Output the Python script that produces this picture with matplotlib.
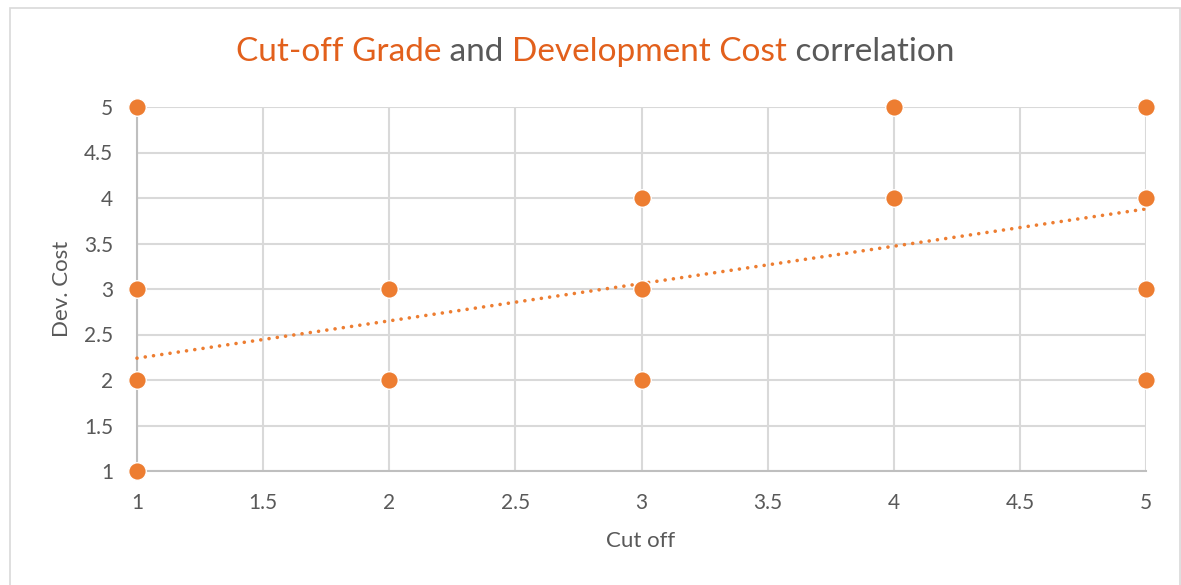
import matplotlib
matplotlib.use("Agg")
import matplotlib.pyplot as plt
from matplotlib.patches import Rectangle

# Observations: cut-off grade vs development cost
cut_off = [1, 1, 1, 1, 2, 2, 3, 3, 3, 4, 4, 5, 5, 5, 5]
dev_cost = [5, 3, 2, 1, 3, 2, 4, 3, 2, 5, 4, 5, 4, 3, 2]

# Linear trendline end points
trend_x = [1, 5]
trend_y = [2.24, 3.88]

x_ticks = [1, 1.5, 2, 2.5, 3, 3.5, 4, 4.5, 5]
y_ticks = [1, 1.5, 2, 2.5, 3, 3.5, 4, 4.5, 5]

ORANGE = "#ED7D31"
TITLE_ORANGE = "#E2601C"
GRAY = "#595959"
GRID = "#D9D9D9"

plt.rcParams["font.family"] = ["Lato", "DejaVu Sans"]

W, H = 1181, 585
fig = plt.figure(figsize=(W / 100, H / 100), dpi=100)
fig.patch.set_facecolor("white")
fig.add_artist(Rectangle((10 / W, -0.01), 1170 / W, 1.01 - 8 / H,
                         transform=fig.transFigure, fill=False,
                         edgecolor="#D9D9D9", linewidth=1.2))

x0, x1, y_top, y_bot = 137, 1146, 107, 471
ax = fig.add_axes([x0 / W, 1 - y_bot / H, (x1 - x0) / W, (y_bot - y_top) / H])
ax.set_xlim(1, 5)
ax.set_ylim(1, 5)
ax.set_xticks(x_ticks)
ax.set_yticks(y_ticks)
ax.set_xticklabels([f"{t:g}" for t in x_ticks])
ax.set_yticklabels([f"{t:g}" for t in y_ticks])
ax.grid(True, color=GRID, linewidth=1.5)
ax.set_axisbelow(True)
for s in ["top", "right"]:
    ax.spines[s].set_visible(False)
for s in ["left", "bottom"]:
    ax.spines[s].set_color("#BFBFBF")
    ax.spines[s].set_linewidth(1.5)
ax.tick_params(length=0, labelsize=15, labelcolor=GRAY)
ax.tick_params(axis="x", pad=16)
ax.tick_params(axis="y", pad=17)

ax.plot(trend_x, trend_y, linestyle=(0, (0.01, 2.3)), color=ORANGE,
        linewidth=2.6, zorder=3, dash_capstyle="round", clip_on=False)
ax.scatter(cut_off, dev_cost, s=160, color=ORANGE, edgecolors="white",
           linewidths=1.0, zorder=4, clip_on=False)

ax.set_xlabel("Cut off", fontsize=16, color=GRAY)
ax.set_ylabel("Dev. Cost", fontsize=16, color=GRAY)
ax.xaxis.set_label_coords((641 - x0) / (x1 - x0), (y_bot - 541) / (y_bot - y_top))
ax.yaxis.set_label_coords((62 - x0) / (x1 - x0), 0.5)
ax.xaxis.label.set_va("center")
ax.yaxis.label.set_va("center")

# Two-tone title assembled from pieces
pieces = [("Cut-off Grade", TITLE_ORANGE), (" and ", GRAY),
          ("Development Cost", TITLE_ORANGE), (" correlation", GRAY)]
fig.canvas.draw()
renderer = fig.canvas.get_renderer()
texts = []
for txt, col in pieces:
    t = fig.text(0, 1 - 52 / H, txt, color=col, fontsize=24, va="center", ha="left")
    texts.append(t)
widths = [t.get_window_extent(renderer).width for t in texts]
total = sum(widths)
x = 595 - total / 2
for t, w in zip(texts, widths):
    t.set_x(x / W)
    x += w

fig.savefig("out.png", dpi=100, facecolor="white")
